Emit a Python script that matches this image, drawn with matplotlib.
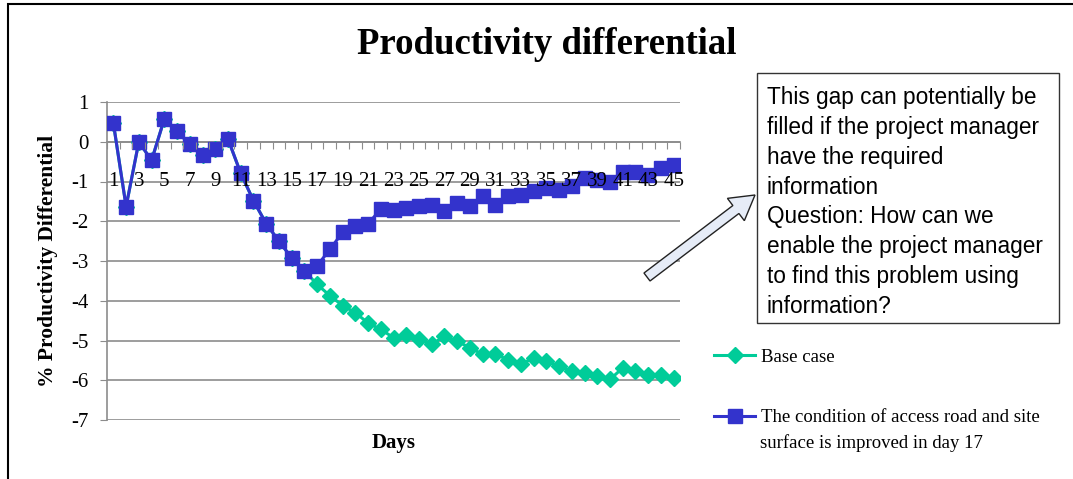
import matplotlib.pyplot as plt
import numpy as np
from matplotlib.patches import FancyArrow, Rectangle
from matplotlib.transforms import IdentityTransform

plt.rcParams['axes.unicode_minus'] = False

# 數據
days = np.arange(1, 46)
improved = [0.47, -1.63, 0.00, -0.47, 0.57, 0.26, -0.06, -0.33, -0.18, 0.07,
            -0.79, -1.48, -2.06, -2.50, -2.92, -3.24, -3.12, -2.71, -2.28, -2.13,
            -2.07, -1.69, -1.71, -1.67, -1.62, -1.58, -1.75, -1.54, -1.62, -1.37,
            -1.58, -1.37, -1.33, -1.25, -1.16, -1.21, -1.12, -0.91, -0.95, -1.00,
            -0.75, -0.75, -0.83, -0.66, -0.58]
base = improved[:16] + [-3.59, -3.87, -4.12, -4.30, -4.56, -4.72, -4.93, -4.85, -4.97,
                        -5.10, -4.89, -5.02, -5.18, -5.35, -5.35, -5.48, -5.60, -5.44,
                        -5.52, -5.65, -5.77, -5.81, -5.90, -5.98, -5.69, -5.77, -5.86,
                        -5.86, -5.94]
tick_labels = [str(d) if d % 2 == 1 else '' for d in days]
note = ("This gap can potentially be\nfilled if the project manager\nhave the required\n"
        "information\nQuestion: How can we\nenable the project manager\n"
        "to find this problem using\ninformation?")

serif = 'Liberation Serif'
blue = '#3333CC'
green = '#00CC99'
grid = '#8c8c8c'

fig = plt.figure(figsize=(10.73, 4.79), dpi=100)
ax = fig.add_axes([107 / 1073, 59 / 479, 573 / 1073, 318 / 479])

ax.plot(days, base, color=green, lw=2.2, marker='D', ms=8, mec=green, label='Base case', zorder=3)
ax.plot(days, improved, color=blue, lw=2.2, marker='s', ms=10, mec=blue,
        label='The condition of access road and site', zorder=4)

ax.set_xlim(0.5, 45.5)
ax.set_ylim(-7, 1)
ax.set_yticks(range(-7, 2))
ax.yaxis.grid(True, color=grid, lw=1.2)
ax.set_axisbelow(True)
ax.xaxis.set_zorder(5)  # 標籤畫在線上面
for s in ['top', 'right']:
    ax.spines[s].set_visible(False)
ax.spines['left'].set_color(grid)
ax.spines['left'].set_linewidth(1.2)
ax.spines['bottom'].set_position(('data', 0))
ax.spines['bottom'].set_color(grid)
ax.spines['bottom'].set_linewidth(1.2)

# x 軸刻度：刻度線在類別之間，標籤在類別中心
ax.set_xticks(np.arange(0.5, 46, 1))
ax.set_xticklabels([])
ax.set_xticks(days, minor=True)
ax.set_xticklabels(tick_labels, minor=True, fontsize=15, family=serif)
ax.tick_params(axis='x', which='major', direction='out', length=5, color=grid)
ax.tick_params(axis='x', which='minor', length=0, pad=22)
ax.tick_params(axis='y', direction='out', length=5, color=grid, labelsize=15, pad=8)
for t in ax.get_yticklabels():
    t.set_family(serif)

ax.set_xlabel('Days', fontsize=15, fontweight='bold', family=serif, labelpad=0)
ax.xaxis.set_label_coords(0.5, -0.04)
ax.set_ylabel('% Productivity Differential', fontsize=15.5, fontweight='bold', family=serif)
ax.yaxis.set_label_coords(-0.0854, 0.5)

fig.text(547 / 1073, 1 - 45 / 479, 'Productivity differential', ha='center', va='center',
         fontsize=26.5, fontweight='bold', family=serif)

leg = fig.legend(loc='upper left', bbox_to_anchor=(697 / 1073, 1 - 332 / 479), frameon=False,
                 prop={'family': serif, 'size': 13.5}, handlelength=2.2, labelspacing=2.3,
                 handletextpad=0.3)
fig.text(760 / 1073, 1 - 443 / 479, 'surface is improved in day 17', ha='left', va='center',
         fontsize=13.5, family=serif)

# 文字框
fig.text(767 / 1073, 1 - 86 / 479, note, ha='left', va='top', fontsize=16.3,
         family='Liberation Sans', linespacing=1.38)
fig.patches.append(Rectangle((757, 479 - 323), 302, 250, transform=IdentityTransform(),
                             fill=False, ec='#333333', lw=1))

# 箭頭
fig.patches.append(FancyArrow(647, 479 - 277, 108, 82, width=10, head_width=28,
                              head_length=24, length_includes_head=True,
                              transform=IdentityTransform(), fc='#e6ecf7', ec='#222222', lw=1))

# 外框
fig.patches.append(Rectangle((8, -20), 1100, 479 - 4 + 20, transform=IdentityTransform(),
                             fill=False, ec='black', lw=1.5))

plt.savefig('out.png', dpi=100)
